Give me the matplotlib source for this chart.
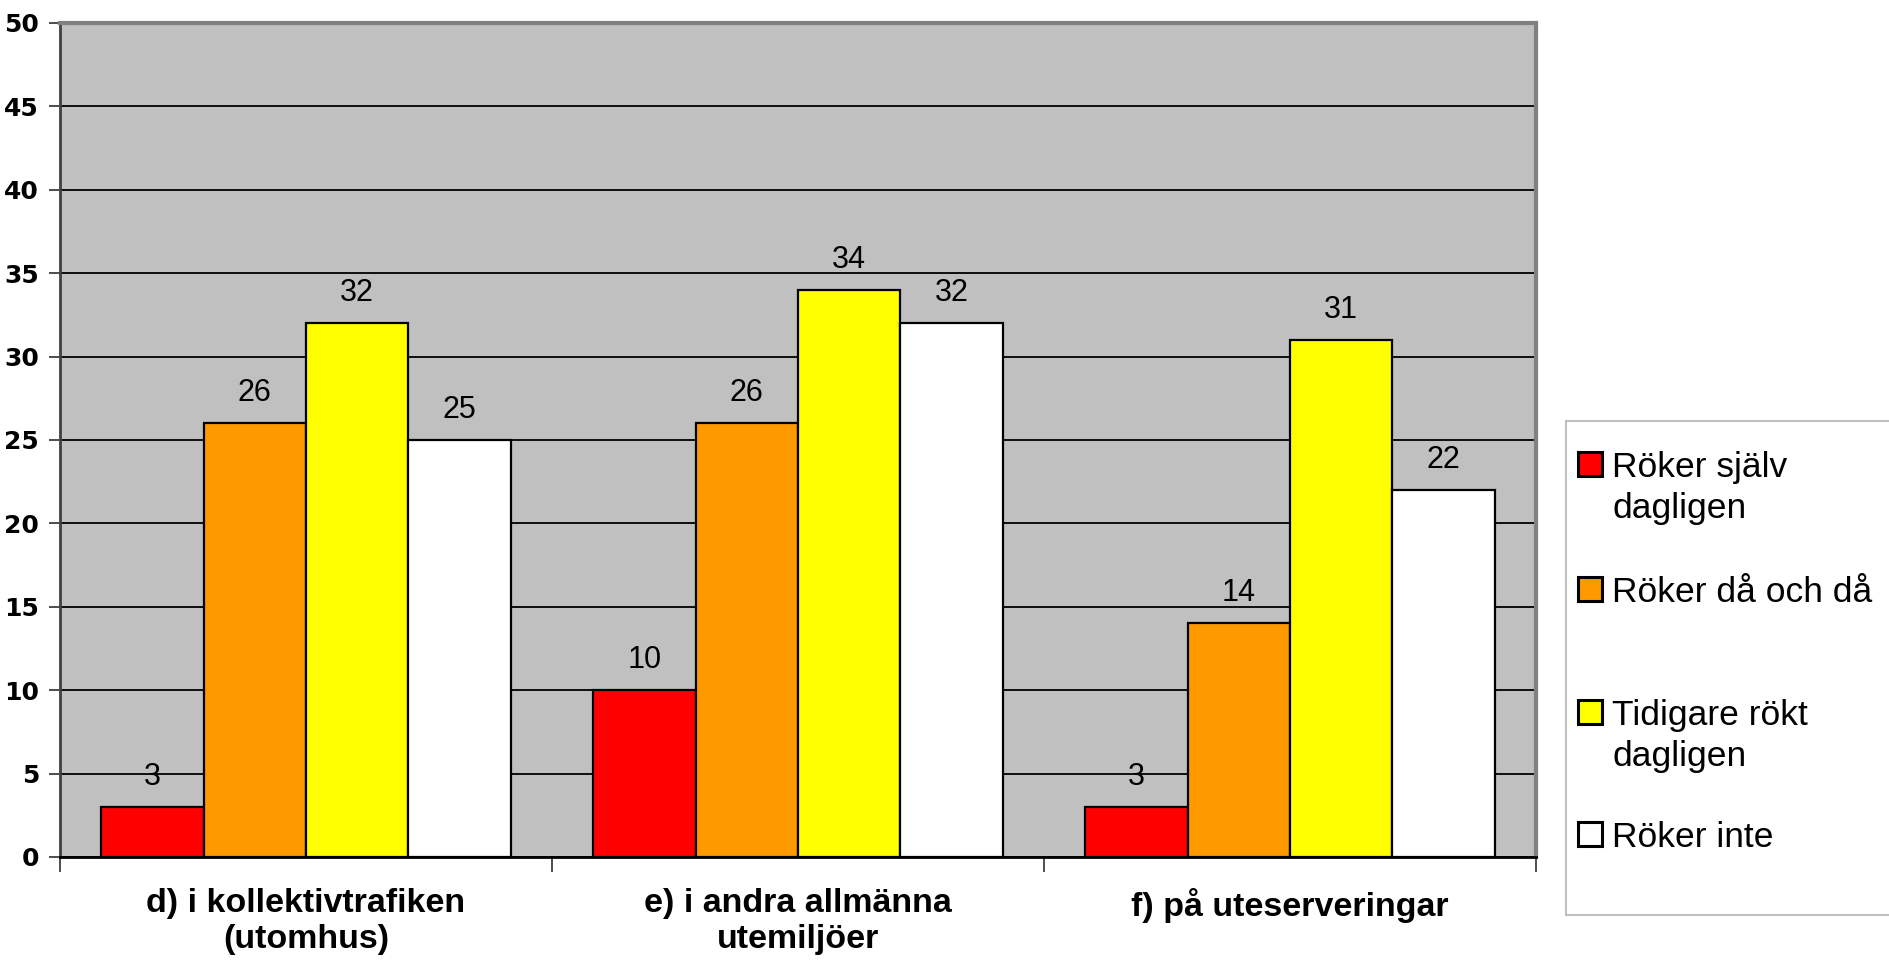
import numpy as np
import matplotlib.pyplot as plt
from matplotlib.patches import Rectangle

categories = ["d) i kollektivtrafiken\n(utomhus)",
              "e) i andra allmänna\nutemiljöer",
              "f) på uteserveringar"]
series_names = ["Röker själv\ndagligen", "Röker då och då",
                "Tidigare rökt\ndagligen", "Röker inte"]
series_colors = ["#FF0000", "#FF9900", "#FFFF00", "#FFFFFF"]
values = [
    [3, 10, 3],     # Röker själv dagligen
    [26, 26, 14],   # Röker då och då
    [32, 34, 31],   # Tidigare rökt dagligen
    [25, 32, 22],   # Röker inte
]
y_ticks = list(range(0, 51, 5))

W, H = 1889, 976
fig = plt.figure(figsize=(W / 100, H / 100), dpi=100)
ax = fig.add_axes([60 / W, 1 - 857 / H, (1536 - 60) / W, (857 - 23) / H])
ax.set_facecolor("#C0C0C0")

x = np.arange(len(categories))
bw = 0.2083
for i, (name, vals) in enumerate(zip(series_names, values)):
    xs = x + (i - 1.5) * bw
    ax.bar(xs, vals, width=bw, color=series_colors[i], edgecolor="black",
           linewidth=1.6, zorder=3)
    for xi, v in zip(xs, vals):
        ax.annotate(str(v), (xi, v), xytext=(0, 16), textcoords="offset points",
                    ha="center", va="baseline", fontsize=22,
                    family="Liberation Sans", color="black")

ax.set_xlim(-0.5, len(categories) - 0.5)
ax.set_ylim(0, 50)
ax.set_yticks(y_ticks)
ax.yaxis.grid(True, color="black", linewidth=1.3, zorder=1)
ax.set_axisbelow(True)
ax.tick_params(axis="y", length=8, width=1.3, pad=7, color="#404040")
for lab in ax.get_yticklabels():
    lab.set_fontsize(18)
    lab.set_fontweight("bold")
    lab.set_family("DejaVu Sans")

# category boundaries as ticks, names as minor labels in the middle
ax.set_xticks(np.arange(len(categories) + 1) - 0.5)
ax.set_xticklabels([])
ax.tick_params(axis="x", which="major", length=11, width=1.3, color="#404040")
ax.set_xticks(x, minor=True)
ax.set_xticklabels(categories, minor=True, fontsize=24.5, fontweight="bold",
                   family="Liberation Sans", linespacing=1.23)
ax.tick_params(axis="x", which="minor", length=0, pad=22)

ax.spines["left"].set_color("#404040")
ax.spines["left"].set_linewidth(2)
ax.spines["bottom"].set_color("black")
ax.spines["bottom"].set_linewidth(2)
ax.spines["top"].set_color("#808080")
ax.spines["top"].set_linewidth(3)
ax.spines["right"].set_color("#808080")
ax.spines["right"].set_linewidth(3)

# legend box, drawn Excel style
fig.patches.append(Rectangle((1566 / W, 1 - 915 / H), (1900 - 1566) / W,
                             (915 - 421) / H, transform=fig.transFigure,
                             facecolor="white", edgecolor="#C0C0C0",
                             linewidth=1.5))
entry_tops = [452, 577, 700, 822]
for name, col, top in zip(series_names, series_colors, entry_tops):
    fig.patches.append(Rectangle((1578 / W, 1 - (top + 24) / H), 24 / W, 24 / H,
                                 transform=fig.transFigure, facecolor=col,
                                 edgecolor="black", linewidth=2.2))
    for k, line in enumerate(name.split("\n")):
        fig.text(1612 / W, 1 - (top + 25 + 41 * k) / H, line, fontsize=25.5,
                 family="Liberation Sans", va="baseline", ha="left")

fig.savefig("out.png", dpi=100)
